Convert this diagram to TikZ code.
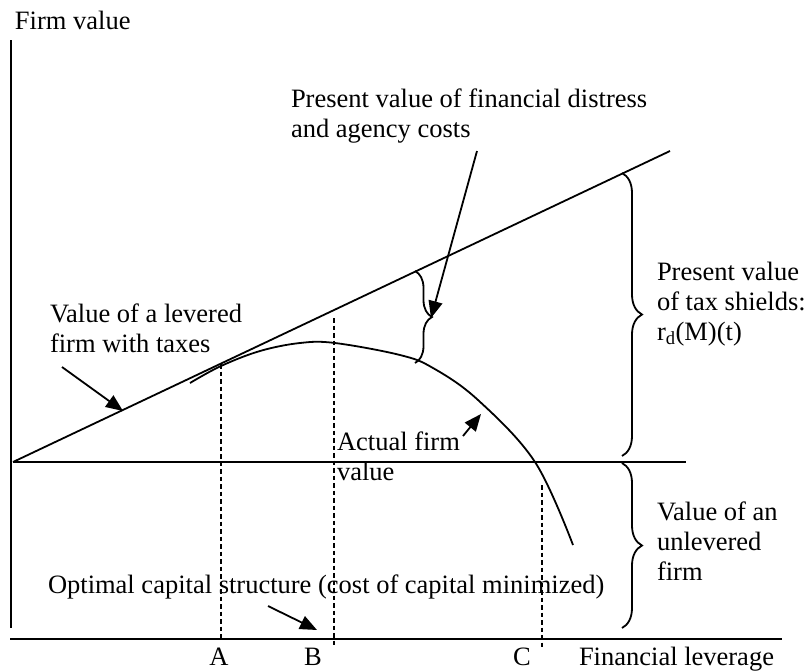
\documentclass[tikz,border=0pt]{standalone}
\usepackage{fontspec}
\setmainfont{Liberation Serif}
\usetikzlibrary{arrows.meta,decorations.pathreplacing}
\begin{document}
\begin{tikzpicture}[x=1pt,y=-1pt,line width=1.8pt,
  every node/.style={inner sep=0pt,outer sep=0pt,font=\fontsize{26.5}{30}\selectfont},
  txt/.style={anchor=base west,align=left},
  letter/.style={anchor=base},
  pointer/.style={-{Triangle[length=17pt,width=14pt]}},
  guide/.style={dash pattern=on 4.5pt off 3pt},
  bracepath/.style={decorate,decoration={brace,amplitude=#1}}]
\useasboundingbox (0,0) rectangle (809,670);

% axes and reference lines
\coordinate (ytop) at (11,40);
\coordinate (ybot) at (11,628);
\coordinate (xl) at (10,639);
\coordinate (xr) at (782,639);
\coordinate (o) at (13,462);
\coordinate (ur) at (686,462);
\coordinate (lev) at (670,151);
\draw (ytop) -- (ybot);
\draw (xl) -- (xr);
\draw (o) -- (ur);
\draw (o) -- (lev);

% actual firm value
\draw plot[smooth,tension=0.6] coordinates {(190,383) (221,366) (260,351) (300,343) (335,343) (400,355) (433,368) (478,400) (535,462) (573,545)};

% leverage markers
\coordinate (atop) at (221,364);
\coordinate (abot) at (221,641);
\coordinate (btop) at (334,318);
\coordinate (bbot) at (334,647);
\coordinate (ctop) at (542,485);
\coordinate (cbot) at (542,647);
\draw[guide] (atop) -- (abot);
\draw[guide] (btop) -- (bbot);
\draw[guide] (ctop) -- (cbot);

% braces
\coordinate (sb1) at (415,271);
\coordinate (sb2) at (415,363);
\coordinate (bb1) at (622,173);
\coordinate (bb2) at (622,456);
\coordinate (lb1) at (622,463);
\coordinate (lb2) at (622,628);
\draw[bracepath=17pt] (sb1) -- (sb2);
\draw[bracepath=20pt] (bb1) -- (bb2);
\draw[bracepath=20pt] (lb1) -- (lb2);

% labels (base anchor sits on the last line)
\node[txt] (fv) at (15,29) {Firm value};
\node[txt] (pvfd) at (291,137) {Present value of financial distress\\and agency costs};
\node[txt] (pvts) at (657,340) {Present value\\of tax shields:\\r\textsubscript{d}(M)(t)};
\node[txt] (vlf) at (50,352) {Value of a levered\\firm with taxes};
\node[txt] (afv) at (337,480) {Actual firm\\value};
\node[txt] (vuf) at (657,580) {Value of an\\unlevered\\firm};
\node[txt] (ocs) at (48,593) {Optimal capital structure (cost of capital minimized)};
\node[letter] (la) at (219,665) {A};
\node[letter] (lbb) at (313,665) {B};
\node[letter] (lc) at (522,665) {C};
\node[txt] (fl) at (579,665) {Financial leverage};

% pointers
\coordinate (p1s) at (477,151);
\coordinate (p1e) at (431,318);
\coordinate (p2s) at (62,367);
\coordinate (p2e) at (123,411);
\coordinate (p3s) at (463,436);
\coordinate (p3e) at (481,414);
\coordinate (p4s) at (268,606);
\coordinate (p4e) at (317,630);
\draw[pointer] (p1s) -- (p1e);
\draw[pointer] (p2s) -- (p2e);
\draw[pointer] (p3s) -- (p3e);
\draw[pointer] (p4s) -- (p4e);
\end{tikzpicture}
\end{document}
